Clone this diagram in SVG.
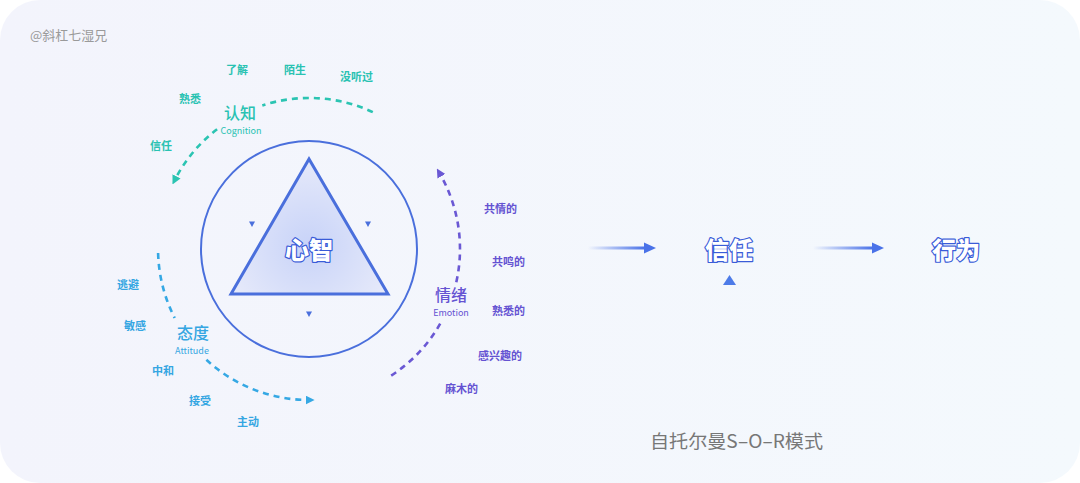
<svg xmlns="http://www.w3.org/2000/svg" width="1080" height="483" viewBox="0 0 1080 483">
<defs>
<linearGradient id="bg" x1="0" y1="0" x2="1" y2="0">
<stop offset="0" stop-color="#f3f4fc"/>
<stop offset="1" stop-color="#f4f9fd"/>
</linearGradient>
<radialGradient id="triFill" cx="309" cy="245" r="85" gradientUnits="userSpaceOnUse">
<stop offset="0" stop-color="#c8d3f8"/>
<stop offset="1" stop-color="#e5e9fa"/>
</radialGradient>
<linearGradient id="arrFade" x1="0" y1="0" x2="1" y2="0">
<stop offset="0" stop-color="#4a72e8" stop-opacity="0"/>
<stop offset="1" stop-color="#4a72e8"/>
</linearGradient>
<marker id="mTeal" viewBox="0 0 10 10" refX="5" refY="5" markerWidth="9" markerHeight="9" markerUnits="userSpaceOnUse" orient="auto">
<path d="M0,0 L10,5 L0,10 Z" fill="#2bc4b2"/>
</marker>
<marker id="mBlue" viewBox="0 0 10 10" refX="5" refY="5" markerWidth="9" markerHeight="9" markerUnits="userSpaceOnUse" orient="auto">
<path d="M0,0 L10,5 L0,10 Z" fill="#35a8e4"/>
</marker>
<marker id="mPurple" viewBox="0 0 10 10" refX="5" refY="5" markerWidth="9" markerHeight="9" markerUnits="userSpaceOnUse" orient="auto">
<path d="M0,0 L10,5 L0,10 Z" fill="#6a58d4"/>
</marker>
<style>
text { font-family: "Noto Sans CJK SC", "Noto Sans", sans-serif; }
.arc { fill: none; stroke-width: 2.6; stroke-dasharray: 6 5; }
.word { font-size: 11px; font-weight: 700; }
.lab { font-size: 16px; font-weight: 500; text-anchor: middle; }
.sub { font-size: 9px; text-anchor: middle; }
.teal { fill: #29c2b2; }
.blue { fill: #35a6e2; }
.purple { fill: #6553d2; }
.outline { font-size: 24px; font-weight: 900; fill: #ffffff; stroke: #3a5cd8; stroke-width: 2.4; paint-order: stroke; stroke-linejoin: round; text-anchor: middle; }
.tri { fill: #4a6fdc; }
</style>
</defs>
<rect x="0" y="0" width="1080" height="483" fill="#ffffff"/>
<rect x="0" y="0" width="1080" height="483" rx="40" ry="40" fill="url(#bg)"/>

<text x="30" y="40" font-size="13" fill="#9a9a9a">@斜杠七湿兄</text>

<g id="connectors">
<path class="arc" stroke="#2bc4b2" marker-end="url(#mTeal)" d="M372.8,112.1 A151,151 0 0 0 262.3,105.4 M217.1,129.2 A151,151 0 0 0 174.5,180.4"/>
<path class="arc" stroke="#6a58d4" marker-end="url(#mPurple)" d="M391.2,375.6 A151,151 0 0 0 442.3,319.9 M456.3,282.2 A151,151 0 0 0 439.1,172.4"/>
<path class="arc" stroke="#35a8e4" marker-end="url(#mBlue)" d="M158.1,253 A151,151 0 0 0 174.7,318 M206.4,359.8 A151,151 0 0 0 310.1,400"/>
<g id="arrow1">
<rect x="588" y="246.5" width="57" height="3" fill="url(#arrFade)"/>
<path d="M644,242.5 L656,248 L644,253.5 Z" fill="#4a72e8"/>
</g>
<g id="arrow2">
<rect x="813" y="246.5" width="60" height="3" fill="url(#arrFade)"/>
<path d="M872,242.5 L884,248 L872,253.5 Z" fill="#4a72e8"/>
</g>
</g>

<g id="mind">
<circle cx="309" cy="249" r="108" fill="none" stroke="#4a6fdc" stroke-width="2"/>
<path d="M309,159 L231,294 L388,294 Z" fill="url(#triFill)" stroke="#4a6fdc" stroke-width="3" stroke-linejoin="miter"/>
<path class="tri" d="M249,221.5 L255,221.5 L252,227 Z"/>
<path class="tri" d="M365,221.5 L371,221.5 L368,227 Z"/>
<path class="tri" d="M306,311.5 L312,311.5 L309,317 Z"/>
<text class="outline" x="309" y="259">心智</text>
</g>

<g id="cognition">
<text class="lab teal" x="240" y="119">认知</text>
<text class="sub teal" x="241" y="134">Cognition</text>
<text class="word teal" x="226" y="74">了解</text>
<text class="word teal" x="284" y="74">陌生</text>
<text class="word teal" x="340" y="81">没听过</text>
<text class="word teal" x="179" y="103">熟悉</text>
<text class="word teal" x="150" y="150">信任</text>
</g>

<g id="attitude">
<text class="lab blue" x="193" y="339">态度</text>
<text class="sub blue" x="192" y="354">Attitude</text>
<text class="word blue" x="117" y="289">逃避</text>
<text class="word blue" x="124" y="330">敏感</text>
<text class="word blue" x="152" y="375">中和</text>
<text class="word blue" x="189" y="405">接受</text>
<text class="word blue" x="237" y="426">主动</text>
</g>

<g id="emotion">
<text class="lab purple" x="451" y="301">情绪</text>
<text class="sub purple" x="451" y="316">Emotion</text>
<text class="word purple" x="484" y="213">共情的</text>
<text class="word purple" x="492" y="266">共鸣的</text>
<text class="word purple" x="492" y="315">熟悉的</text>
<text class="word purple" x="478" y="360">感兴趣的</text>
<text class="word purple" x="445" y="393">麻木的</text>
</g>

<g id="trust">
<text class="outline" x="729" y="259">信任</text>
<path d="M729.5,275 L736,285 L723,285 Z" fill="#4d7be8"/>
</g>

<g id="behavior">
<text class="outline" x="956" y="259">行为</text>
</g>

<text x="650" y="448" font-size="18" fill="#777777" textLength="173" lengthAdjust="spacingAndGlyphs">自托尔曼S–O–R模式</text>
</svg>
